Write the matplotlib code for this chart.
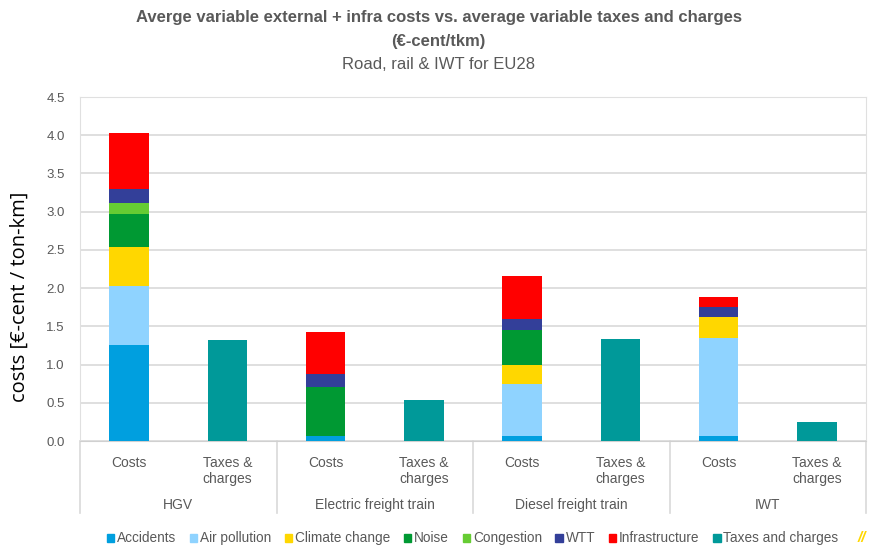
import numpy as np
import matplotlib.pyplot as plt
from matplotlib.patches import Patch
from matplotlib.transforms import blended_transform_factory

# values (euro-cent / tkm)
groups = ['HGV', 'Electric freight train', 'Diesel freight train', 'IWT']
bar_labels = ['Costs', 'Taxes &\ncharges']
components = ['Accidents', 'Air pollution', 'Climate change', 'Noise',
              'Congestion', 'WTT', 'Infrastructure']
accidents = [1.26, 0.065, 0.065, 0.065]
air_pollution = [0.77, 0.0, 0.675, 1.285]
climate_change = [0.51, 0.0, 0.25, 0.27]
noise = [0.43, 0.645, 0.46, 0.0]
congestion = [0.14, 0.0, 0.0, 0.0]
wtt = [0.19, 0.165, 0.14, 0.13]
infrastructure = [0.73, 0.555, 0.57, 0.135]
taxes = [1.32, 0.53, 1.33, 0.25]

colors = ['#009fdf', '#8fd3ff', '#ffd700', '#009933', '#66cc33',
          '#333f99', '#ff0000']
tax_color = '#009999'
grey = '#595959'

plt.rcParams['font.family'] = ['Liberation Sans', 'DejaVu Sans']

fig = plt.figure(figsize=(8.72, 5.45), dpi=100)
ax = fig.add_axes([80 / 872, 1 - 441 / 545, 786 / 872, 344 / 545])

costs_x = np.arange(len(groups)) * 2 + 0.5
taxes_x = costs_x + 1
w = 0.4

series = [accidents, air_pollution, climate_change, noise, congestion, wtt,
          infrastructure]
bottom = np.zeros(len(groups))
for vals, c in zip(series, colors):
    ax.bar(costs_x, vals, w, bottom=bottom, color=c, zorder=3)
    bottom += np.array(vals)
ax.bar(taxes_x, taxes, w, color=tax_color, zorder=3)

ax.set_xlim(0, 8)
ax.set_ylim(0, 4.5)
ticks = np.arange(0, 4.51, 0.5)
ax.set_yticks(ticks)
ax.set_yticklabels([f'{v:.1f}' for v in ticks])
ax.yaxis.grid(True, color='#d9d9d9', linewidth=1.2, zorder=0)
ax.tick_params(axis='y', length=0, pad=11, labelsize=9.5, labelcolor=grey)

xt = np.sort(np.concatenate([costs_x, taxes_x]))
ax.set_xticks(xt)
ax.set_xticklabels(bar_labels * len(groups), va='top', linespacing=1.15)
ax.tick_params(axis='x', length=0, pad=11, labelsize=10, labelcolor=grey)

for s in ['top', 'right', 'left']:
    ax.spines[s].set_color('#e0e0e0')
ax.spines['bottom'].set_color('#d0d0d0')

trans = blended_transform_factory(ax.transData, ax.transAxes)
for x in range(0, 9, 2):
    ax.plot([x, x], [0, -0.21], transform=trans, color='#d9d9d9',
            linewidth=1.2, clip_on=False)
for i, g in enumerate(groups):
    ax.text(i * 2 + 1, -0.185, g, transform=trans, ha='center', va='center',
            fontsize=10, color=grey)

ax.set_ylabel('costs [€-cent / ton-km]', fontsize=14.5, color='black',
              family=['Open Sans', 'DejaVu Sans'])
ax.yaxis.set_label_coords(-0.064, 0.42)

fig.text(0.503, 0.968, 'Averge variable external + infra costs vs. average '
         'variable taxes and charges', ha='center', va='center',
         fontsize=12, fontweight='bold', color=grey)
fig.text(0.503, 0.924, '(€-cent/tkm)', ha='center', va='center',
         fontsize=12, fontweight='bold', color=grey)
fig.text(0.503, 0.882, 'Road, rail & IWT for EU28', ha='center',
         va='center', fontsize=12, color=grey)

handles = [Patch(color=c) for c in colors] + [Patch(color=tax_color)]
labels = components + ['Taxes and charges']
fig.legend(handles, labels, loc='center', bbox_to_anchor=(0.542, 0.012),
           ncol=8, frameon=False, fontsize=9.8, handlelength=0.55,
           handleheight=0.55, handletextpad=0.2, columnspacing=1.0,
           labelcolor=grey)
fig.text(0.988, 0.012, '//', ha='center', va='center', fontsize=11,
         color='#ffd700', fontweight='bold', style='italic')

fig.savefig('out.png', dpi=100)
